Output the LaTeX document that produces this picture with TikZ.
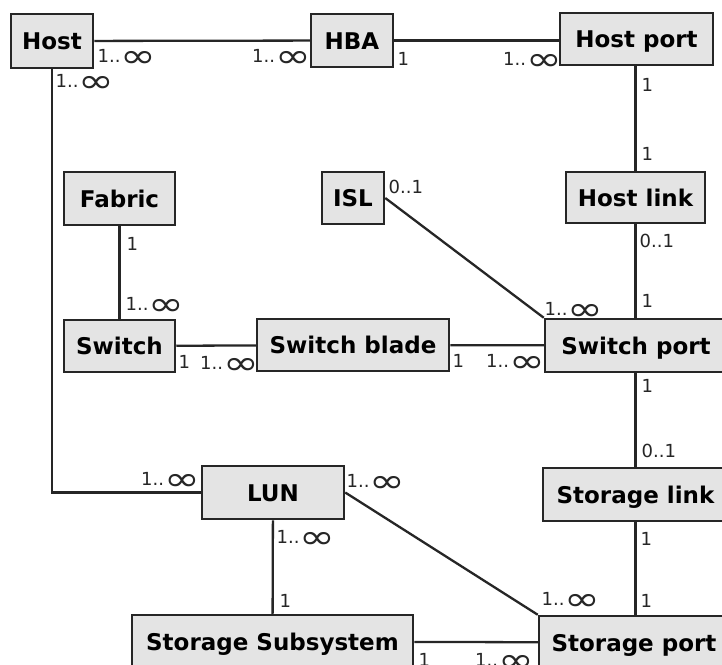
\documentclass[tikz,border=0pt]{standalone}
\usepackage{fontspec}
\usepackage{graphicx}
\setmainfont{DejaVu Sans}
\newfontfamily\boxfam{DejaVu Sans}[BoldFont={DejaVu Sans Bold}]
\newcommand\boxfont{\boxfam\bfseries\fontsize{23}{26}\selectfont}
\newcommand\multfont{\fontsize{18}{20}\selectfont}
% wide infinity sign used in the multiplicities
\newcommand\infsym{\raisebox{-5.5pt}{\scalebox{1.3}[1]{\fontsize{33}{33}\selectfont ∞}}}
\newcommand\many{1..\infsym}

\begin{document}
\begin{tikzpicture}[x=1pt,y=-1pt,
  box/.style={draw=black!85, fill=gray!21, line width=2.5pt, inner sep=0pt,
    font=\boxfont, text height=17pt, text depth=0pt},
  link/.style={draw=black!85, line width=2.3pt},
  mult/.style={anchor=base west, inner sep=0pt, font=\multfont, text=black!85}]
\clip (0,0) rectangle (722,664);
\fill[white] (0,0) rectangle (722,664);

% classes
\node[box, minimum width=82pt,  minimum height=54pt] (host)     at (52,41)      {Host};
\node[box, minimum width=82pt,  minimum height=53pt] (hba)      at (352,40.5)   {HBA};
\node[box, minimum width=153pt, minimum height=52pt] (hostport) at (636.5,39)   {Host port};
\node[box, minimum width=139pt, minimum height=51pt] (hostlink) at (635.5,197.5){Host link};
\node[box, minimum width=111pt, minimum height=53pt] (fabric)   at (119.5,198.5){Fabric};
\node[box, minimum width=62pt,  minimum height=52pt] (isl)      at (353,198)    {ISL};
\node[box, minimum width=111pt, minimum height=52pt] (switch)   at (119.5,346)  {Switch};
\node[box, minimum width=192pt, minimum height=52pt] (blade)    at (353,345)    {Switch blade};
\node[box, minimum width=182pt, minimum height=53pt] (swport)   at (636,345.5)  {Switch port};
\node[box, minimum width=185pt, minimum height=53pt] (stlink)   at (635.5,494.5){Storage link};
\node[box, minimum width=142pt, minimum height=53pt] (lun)      at (273,492.5)  {LUN};
\node[box, minimum width=281pt, minimum height=53pt] (subsys)   at (272.5,641.5){Storage Subsystem};
\node[box, minimum width=190pt, minimum height=53pt] (stport)   at (634,642.5)  {Storage port};

% associations
\draw[link] (host) -- (hba);
\draw[link] (hba.east) -- (hba.east -| hostport.west);
\draw[link] (hostport.south -| hostlink.north) -- (hostlink.north);
\draw[link] (hostlink.south) -- (hostlink.south |- swport.north);
\draw[link] (isl.east) -- (swport.north west);
\draw[link] (fabric) -- (switch);
\draw[link] (switch) -- (blade);
\draw[link] (blade) -- (swport);
\draw[link] (swport.south -| stlink.north) -- (stlink.north);
\draw[link] (stlink.south) -- (stlink.south |- stport.north);
\draw[link] (host.south) |- (lun.west);
\draw[link] (lun.east) -- (stport.north west);
\draw[link] (lun) -- (subsys);
\draw[link] (subsys) -- (stport);

% multiplicities
\node[mult] at (97.5,62)  {\many};
\node[mult] at (252,62)   {\many};
\node[mult] at (55.5,87)  {\many};
\node[mult] at (397.5,65) {1};
\node[mult] at (503,65)   {\many};
\node[mult] at (641.5,91) {1};
\node[mult] at (641.5,160) {1};
\node[mult] at (639.5,247) {0..1};
\node[mult] at (641.5,307) {1};
\node[mult] at (388.5,193) {0..1};
\node[mult] at (544.5,315) {\many};
\node[mult] at (126.5,250) {1};
\node[mult] at (125.5,310) {\many};
\node[mult] at (178.5,368) {1};
\node[mult] at (200,369)   {\many};
\node[mult] at (452.5,367) {1};
\node[mult] at (486,367)   {\many};
\node[mult] at (641.5,392) {1};
\node[mult] at (641.5,457) {0..1};
\node[mult] at (640.5,545) {1};
\node[mult] at (640.5,607) {1};
\node[mult] at (141,485)   {\many};
\node[mult] at (346.5,487) {\many};
\node[mult] at (541.5,605) {\many};
\node[mult] at (276.5,543) {\many};
\node[mult] at (279.5,607) {1};
\node[mult] at (418.5,666) {1};
\node[mult] at (475,666)   {\many};
\end{tikzpicture}
\end{document}
